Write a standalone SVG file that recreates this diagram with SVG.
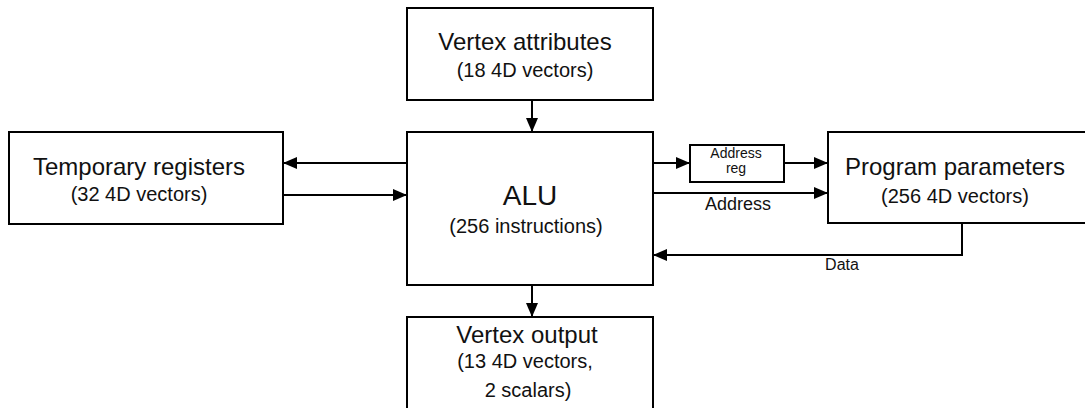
<svg xmlns="http://www.w3.org/2000/svg" width="1085" height="408" viewBox="0 0 1085 408">
  <style>
    .box { fill: #ffffff; stroke: #000000; stroke-width: 2; }
    .wire { fill: none; stroke: #000000; stroke-width: 2; }
    text { font-family: "Liberation Sans", Arial, sans-serif; fill: #111111; text-anchor: middle; }
    .title { font-size: 24px; }
    .big { font-size: 28px; }
    .sub { font-size: 20px; }
    .small { font-size: 14px; }
    .label { font-size: 18px; }
    .tiny { font-size: 16px; }
  </style>
  <defs>
    <marker id="arrow" markerUnits="userSpaceOnUse" markerWidth="14" markerHeight="12" refX="14" refY="6" orient="auto">
      <path d="M0,0 L14,6 L0,12 Z" fill="#000000"/>
    </marker>
  </defs>

  <rect x="0" y="0" width="1085" height="408" fill="#ffffff"/>

  <g id="vertex-attributes">
    <rect class="box" x="407" y="8" width="246" height="92"/>
    <text class="title" x="525" y="50">Vertex attributes</text>
    <text class="sub" x="525" y="77">(18 4D vectors)</text>
  </g>

  <g id="temporary-registers">
    <rect class="box" x="9" y="132" width="274" height="92"/>
    <text class="title" x="139" y="175">Temporary registers</text>
    <text class="sub" x="139" y="201">(32 4D vectors)</text>
  </g>

  <g id="alu">
    <rect class="box" x="407" y="132" width="246" height="153"/>
    <text class="big" x="530" y="205">ALU</text>
    <text class="sub" x="526" y="233">(256 instructions)</text>
  </g>

  <g id="address-reg">
    <rect class="box" x="690" y="145" width="94" height="37"/>
    <text class="small" x="736" y="158">Address</text>
    <text class="small" x="736" y="173">reg</text>
  </g>

  <g id="program-parameters">
    <rect class="box" x="828" y="132" width="270" height="91"/>
    <text class="title" x="955" y="175">Program parameters</text>
    <text class="sub" x="955" y="203">(256 4D vectors)</text>
  </g>

  <g id="vertex-output">
    <rect class="box" x="407" y="317" width="246" height="100"/>
    <text class="title" x="527" y="343">Vertex output</text>
    <text class="sub" x="525" y="368">(13 4D vectors,</text>
    <text class="sub" x="528" y="397">2 scalars)</text>
  </g>

  <g id="connectors">
    <path class="wire" d="M532,100 L532,132" marker-end="url(#arrow)"/>
    <path class="wire" d="M407,163 L283,163" marker-end="url(#arrow)"/>
    <path class="wire" d="M283,195 L407,195" marker-end="url(#arrow)"/>
    <path class="wire" d="M653,163 L690,163" marker-end="url(#arrow)"/>
    <path class="wire" d="M784,163 L828,163" marker-end="url(#arrow)"/>
    <path class="wire" d="M653,193 L828,193" marker-end="url(#arrow)"/>
    <path class="wire" d="M962,223 L962,255 L653,255" marker-end="url(#arrow)"/>
    <path class="wire" d="M532,285 L532,317" marker-end="url(#arrow)"/>
    <text class="label" x="738" y="210">Address</text>
    <text class="tiny" x="842" y="270">Data</text>
  </g>
</svg>
